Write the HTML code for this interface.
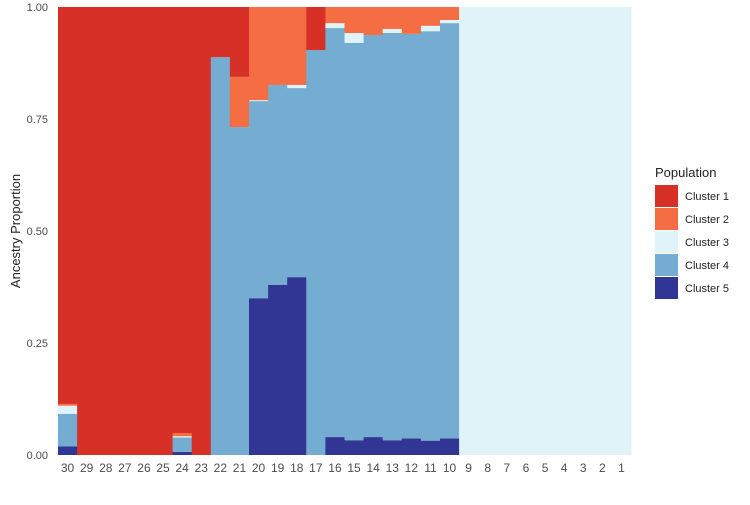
<!DOCTYPE html>
<html><head><meta charset="utf-8"><style>
body{margin:0;background:#fff;font-family:"Liberation Sans",sans-serif}
</style></head><body>
<svg id="chart" width="750" height="500" xmlns="http://www.w3.org/2000/svg">
<g id="bars"></g>
<g id="axes"></g>
<text x="20" y="231" transform="rotate(-90 20 231)" text-anchor="middle" font-size="13" fill="#222">Ancestry Proportion</text>
<g id="legend">
<text x="655" y="177" font-size="13" fill="#222">Population</text>
</g>
</svg>
<script>
const categories=["30","29","28","27","26","25","24","23","22","21","20","19","18","17","16","15","14","13","12","11","10","9","8","7","6","5","4","3","2","1"];
const cluster5=[0.019,0,0,0,0,0,0.007,0,0,0,0.35,0.38,0.397,0,0.04,0.033,0.04,0.033,0.037,0.032,0.037,0,0,0,0,0,0,0,0,0];
const cluster4=[0.073,0,0,0,0,0,0.032,0,0.888,0.732,0.44,0.446,0.422,0.904,0.913,0.887,0.8975,0.909,0.903,0.914,0.927,0,0,0,0,0,0,0,0,0];
const cluster3=[0.018,0,0,0,0,0,0.003,0,0,0,0.002,0,0.007,0,0.011,0.022,0,0.009,0,0.012,0.007,1,1,1,1,1,1,1,1,1];
const cluster2=[0.004,0,0,0,0,0,0.007,0,0,0.112,0.208,0.174,0.174,0,0.036,0.058,0.0625,0.049,0.06,0.042,0.029,0,0,0,0,0,0,0,0,0];
const cluster1=[0.886,1,1,1,1,1,0.951,1,0.112,0.156,0,0,0,0.096,0,0,0,0,0,0,0,0,0,0,0,0,0,0,0,0];
const yTicks=[0,0.25,0.5,0.75,1];
const yTickLabels=["0.00","0.25","0.50","0.75","1.00"];
const clusterNames=["Cluster 1","Cluster 2","Cluster 3","Cluster 4","Cluster 5"];
const colors=["#d73027","#f46d43","#e0f3f8","#74add1","#313695"];
const NS="http://www.w3.org/2000/svg";
const L=58,R=631,T=7,B=455;
const bw=(R-L)/categories.length;
const x=i=>L+i*bw;
const y=v=>B-v*(B-T);
const bars=document.getElementById('bars');
const series=[cluster5,cluster4,cluster3,cluster2,cluster1];
const sColors=[colors[4],colors[3],colors[2],colors[1],colors[0]];
const sNames=["cluster-5","cluster-4","cluster-3","cluster-2","cluster-1"];
categories.forEach((c,i)=>{
  let cum=0;
  series.forEach((s,k)=>{
    const v=s[i]; if(v<=0){return;}
    const r=document.createElementNS(NS,'rect');
    r.setAttribute('x',x(i));r.setAttribute('width',bw+0.4);
    r.setAttribute('y',y(Math.min(1,cum+v)));r.setAttribute('height',y(cum)-y(Math.min(1,cum+v)));
    r.setAttribute('fill',sColors[k]);
    
    
    bars.appendChild(r);cum+=v;
  });
});
const axes=document.getElementById('axes');
yTicks.forEach((t,i)=>{
  const tx=document.createElementNS(NS,'text');
  tx.setAttribute('x',48);tx.setAttribute('y',y(t)+4);tx.setAttribute('text-anchor','end');
  tx.setAttribute('font-size','11');tx.setAttribute('fill','#4d4d4d');tx.textContent=yTickLabels[i];
  
  
  axes.appendChild(tx);
});
categories.forEach((c,i)=>{
  const tx=document.createElementNS(NS,'text');
  tx.setAttribute('x',x(i)+bw/2);tx.setAttribute('y',472);tx.setAttribute('text-anchor','middle');
  tx.setAttribute('font-size','12');tx.setAttribute('fill','#4d4d4d');tx.textContent=c;
  
  
  axes.appendChild(tx);
});
const leg=document.getElementById('legend');
clusterNames.forEach((n,i)=>{
  const r=document.createElementNS(NS,'rect');
  r.setAttribute('x',655);r.setAttribute('y',185+i*23);r.setAttribute('width',23);r.setAttribute('height',22);
  r.setAttribute('fill',colors[i]);
  
  
  leg.appendChild(r);
  const t=document.createElementNS(NS,'text');
  t.setAttribute('x',685);t.setAttribute('y',200+i*23);t.setAttribute('font-size','11');t.setAttribute('fill','#222');
  t.textContent=n;
  
  
  leg.appendChild(t);
});
</script>
</body></html>
